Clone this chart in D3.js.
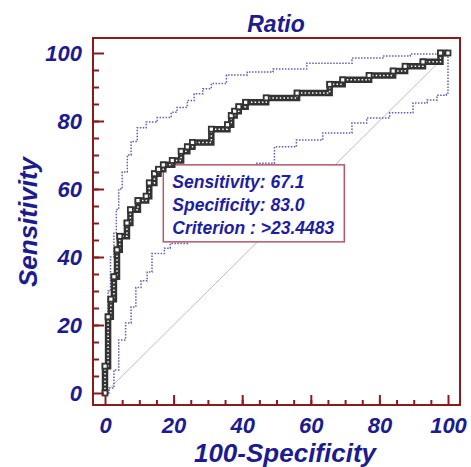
<!DOCTYPE html>
<html>
<head>
<meta charset="utf-8">
<script src="https://cdn.jsdelivr.net/npm/d3@7"></script>
<style>
  body { margin: 0; background: #fff; }
  svg text { font-family: "Liberation Sans", Arial, sans-serif; font-weight: bold; font-style: italic; }
</style>
</head>
<body>
<div class="chart"></div>
<script>
// ROC curve (100-Specificity, Sensitivity), corners of the staircase
var rocFpr  = [0, 0, 0.9, 1.7, 2.6, 3.5, 4.3, 6.4, 7.4, 9.6, 12.0, 12.9, 14.4, 15.6, 17.0, 19.6, 22.2, 24.0, 25.5, 31.0, 35.7, 36.8, 37.8, 39.0, 41.0, 47.0, 56.0, 65.5, 69.3, 77.0, 84.0, 87.5, 92.7, 97.8, 100];
var rocSens = [0, 7.9, 22.4, 27.6, 34.2, 42.1, 46.1, 50.0, 53.9, 56.6, 57.9, 61.8, 64.5, 65.8, 67.1, 68.4, 71.1, 72.4, 73.7, 77.6, 78.9, 81.6, 82.9, 84.2, 85.5, 86.8, 88.2, 90.8, 92.1, 93.4, 94.7, 96.1, 97.4, 100, 100];

// 95% confidence bounds
var upperFpr  = [0, 0.5, 0.9, 1.6, 2.6, 3.3, 4.0, 5.0, 6.5, 7.6, 9.4, 12.0, 15.2, 19.3, 21.0, 24.0, 26.0, 28.5, 31.0, 35.4, 41.5, 49.0, 58.8, 72.0, 81.0, 89.0, 97.7, 100];
var upperSens = [0, 20, 30, 40, 47, 54, 60, 65, 70, 74, 78, 79.7, 81, 82.6, 84, 86, 88, 89.5, 91, 93.5, 94.4, 95.3, 97, 98.5, 99.1, 99.7, 100, 100];
var lowerFpr  = [0, 1.2, 2.6, 4.0, 6.0, 7.6, 9.0, 10.5, 12.3, 13.7, 17.3, 19.0, 24.0, 30.0, 37.0, 44.0, 49.4, 55.8, 63.5, 72.0, 76.3, 83.0, 89.8, 93.9, 96.8, 99.5, 100];
var lowerSens = [0, 1.5, 6.8, 15.6, 20.6, 25.3, 31.0, 33.0, 35.6, 41.0, 42.6, 44.0, 49.0, 55.0, 61.0, 67.6, 72.4, 74.4, 76.5, 79.4, 80.9, 82.4, 85.3, 86.2, 87.6, 88.2, 100];

var xTicks = [0, 20, 40, 60, 80, 100];
var yTicks = [0, 20, 40, 60, 80, 100];

var criterion = { fpr: 17.0, sens: 67.1 };
var boxLines = ["Sensitivity: 67.1", "Specificity: 83.0", "Criterion : >23.4483"];

function init() {
    var w = 471, h = 467;
    var frameColor = "#8b1a1a";
    var textColor = "#1c1c8e";

    var x = d3.scaleLinear().domain([0, 100]).range([105, 448]);
    var y = d3.scaleLinear().domain([0, 100]).range([393, 53]);

    var svg = d3.select(".chart")
        .append("svg")
        .attr("width", w)
        .attr("height", h);

    // diagonal reference line
    svg.append("line")
        .attr("x1", x(0)).attr("y1", y(0))
        .attr("x2", x(100)).attr("y2", y(100))
        .attr("stroke", "#cdb6b6")
        .attr("stroke-width", 1);

    var step = d3.line()
        .x(function(d) { return x(d[0]); })
        .y(function(d) { return y(d[1]); })
        .curve(d3.curveStepAfter);

    var bands = [d3.zip(upperFpr, upperSens), d3.zip(lowerFpr, lowerSens)];
    svg.selectAll("path.band")
        .data(bands)
        .enter()
        .append("path")
        .attr("class", "band")
        .attr("d", step)
        .attr("fill", "none")
        .attr("stroke", "#5f5fb3")
        .attr("stroke-width", 1.5)
        .attr("stroke-dasharray", "1.5,1.5");

    // criterion box
    var bx = x(criterion.fpr), by = y(criterion.sens);
    svg.append("rect")
        .attr("x", bx).attr("y", by)
        .attr("width", 181).attr("height", 77)
        .attr("fill", "#fff")
        .attr("stroke", "#b5566a")
        .attr("stroke-width", 1.5);

    svg.selectAll("text.box")
        .data(boxLines)
        .enter()
        .append("text")
        .attr("class", "box")
        .attr("x", bx + 9)
        .attr("y", function(d, i) { return by + 23 + i * 23; })
        .attr("font-size", "17.5px")
        .attr("fill", "#1e1ea2")
        .text(function(d) { return d; });

    // ROC curve: dark band with white square centres
    var roc = d3.zip(rocFpr, rocSens);
    svg.append("path")
        .attr("d", step(roc))
        .attr("fill", "none")
        .attr("stroke", "#333")
        .attr("stroke-width", 6.5);
    svg.append("path")
        .attr("d", step(roc))
        .attr("fill", "none")
        .attr("stroke", "#fff")
        .attr("stroke-width", 1.5)
        .attr("stroke-dasharray", "1.5,2.2");

    svg.selectAll("rect.pt")
        .data(roc)
        .enter()
        .append("rect")
        .attr("class", "pt")
        .attr("x", function(d) { return x(d[0]) - 2.5; })
        .attr("y", function(d) { return y(d[1]) - 2.5; })
        .attr("width", 5).attr("height", 5)
        .attr("fill", "#fff")
        .attr("stroke", "#333")
        .attr("stroke-width", 1.8);

    // frame
    svg.append("rect")
        .attr("x", 93).attr("y", 38)
        .attr("width", 367).attr("height", 367)
        .attr("fill", "none")
        .attr("stroke", frameColor)
        .attr("stroke-width", 2);

    var minor = d3.range(5, 100, 5);

    function styleAxis(g) {
        g.select(".domain").remove();
        g.selectAll("line").attr("stroke", frameColor).attr("stroke-width", 2);
        g.selectAll("text").attr("fill", textColor).attr("font-size", "22px")
            .style("font-family", "'Liberation Sans', Arial, sans-serif");
    }

    svg.append("g")
        .attr("transform", "translate(0,405)")
        .call(d3.axisBottom(x).tickValues(minor).tickSize(-5).tickFormat(""))
        .call(styleAxis);
    svg.append("g")
        .attr("transform", "translate(0,405)")
        .call(d3.axisBottom(x).tickValues(xTicks).tickSize(-10).tickPadding(12))
        .call(styleAxis);

    svg.append("g")
        .attr("transform", "translate(93,0)")
        .call(d3.axisLeft(y).tickValues(minor).tickSize(-6).tickFormat(""))
        .call(styleAxis);
    svg.append("g")
        .attr("transform", "translate(93,0)")
        .call(d3.axisLeft(y).tickValues(yTicks).tickSize(-11).tickPadding(11))
        .call(styleAxis);

    // titles
    svg.append("text")
        .attr("x", 276).attr("y", 32)
        .attr("text-anchor", "middle")
        .attr("font-size", "23px")
        .attr("fill", textColor)
        .text("Ratio");

    svg.append("text")
        .attr("x", 285).attr("y", 462)
        .attr("text-anchor", "middle")
        .attr("font-size", "26px")
        .attr("fill", textColor)
        .text("100-Specificity");

    svg.append("text")
        .attr("transform", "translate(37,222) rotate(-90)")
        .attr("text-anchor", "middle")
        .attr("font-size", "26px")
        .attr("fill", textColor)
        .text("Sensitivity");
}

init()
</script>
</body>
</html>
